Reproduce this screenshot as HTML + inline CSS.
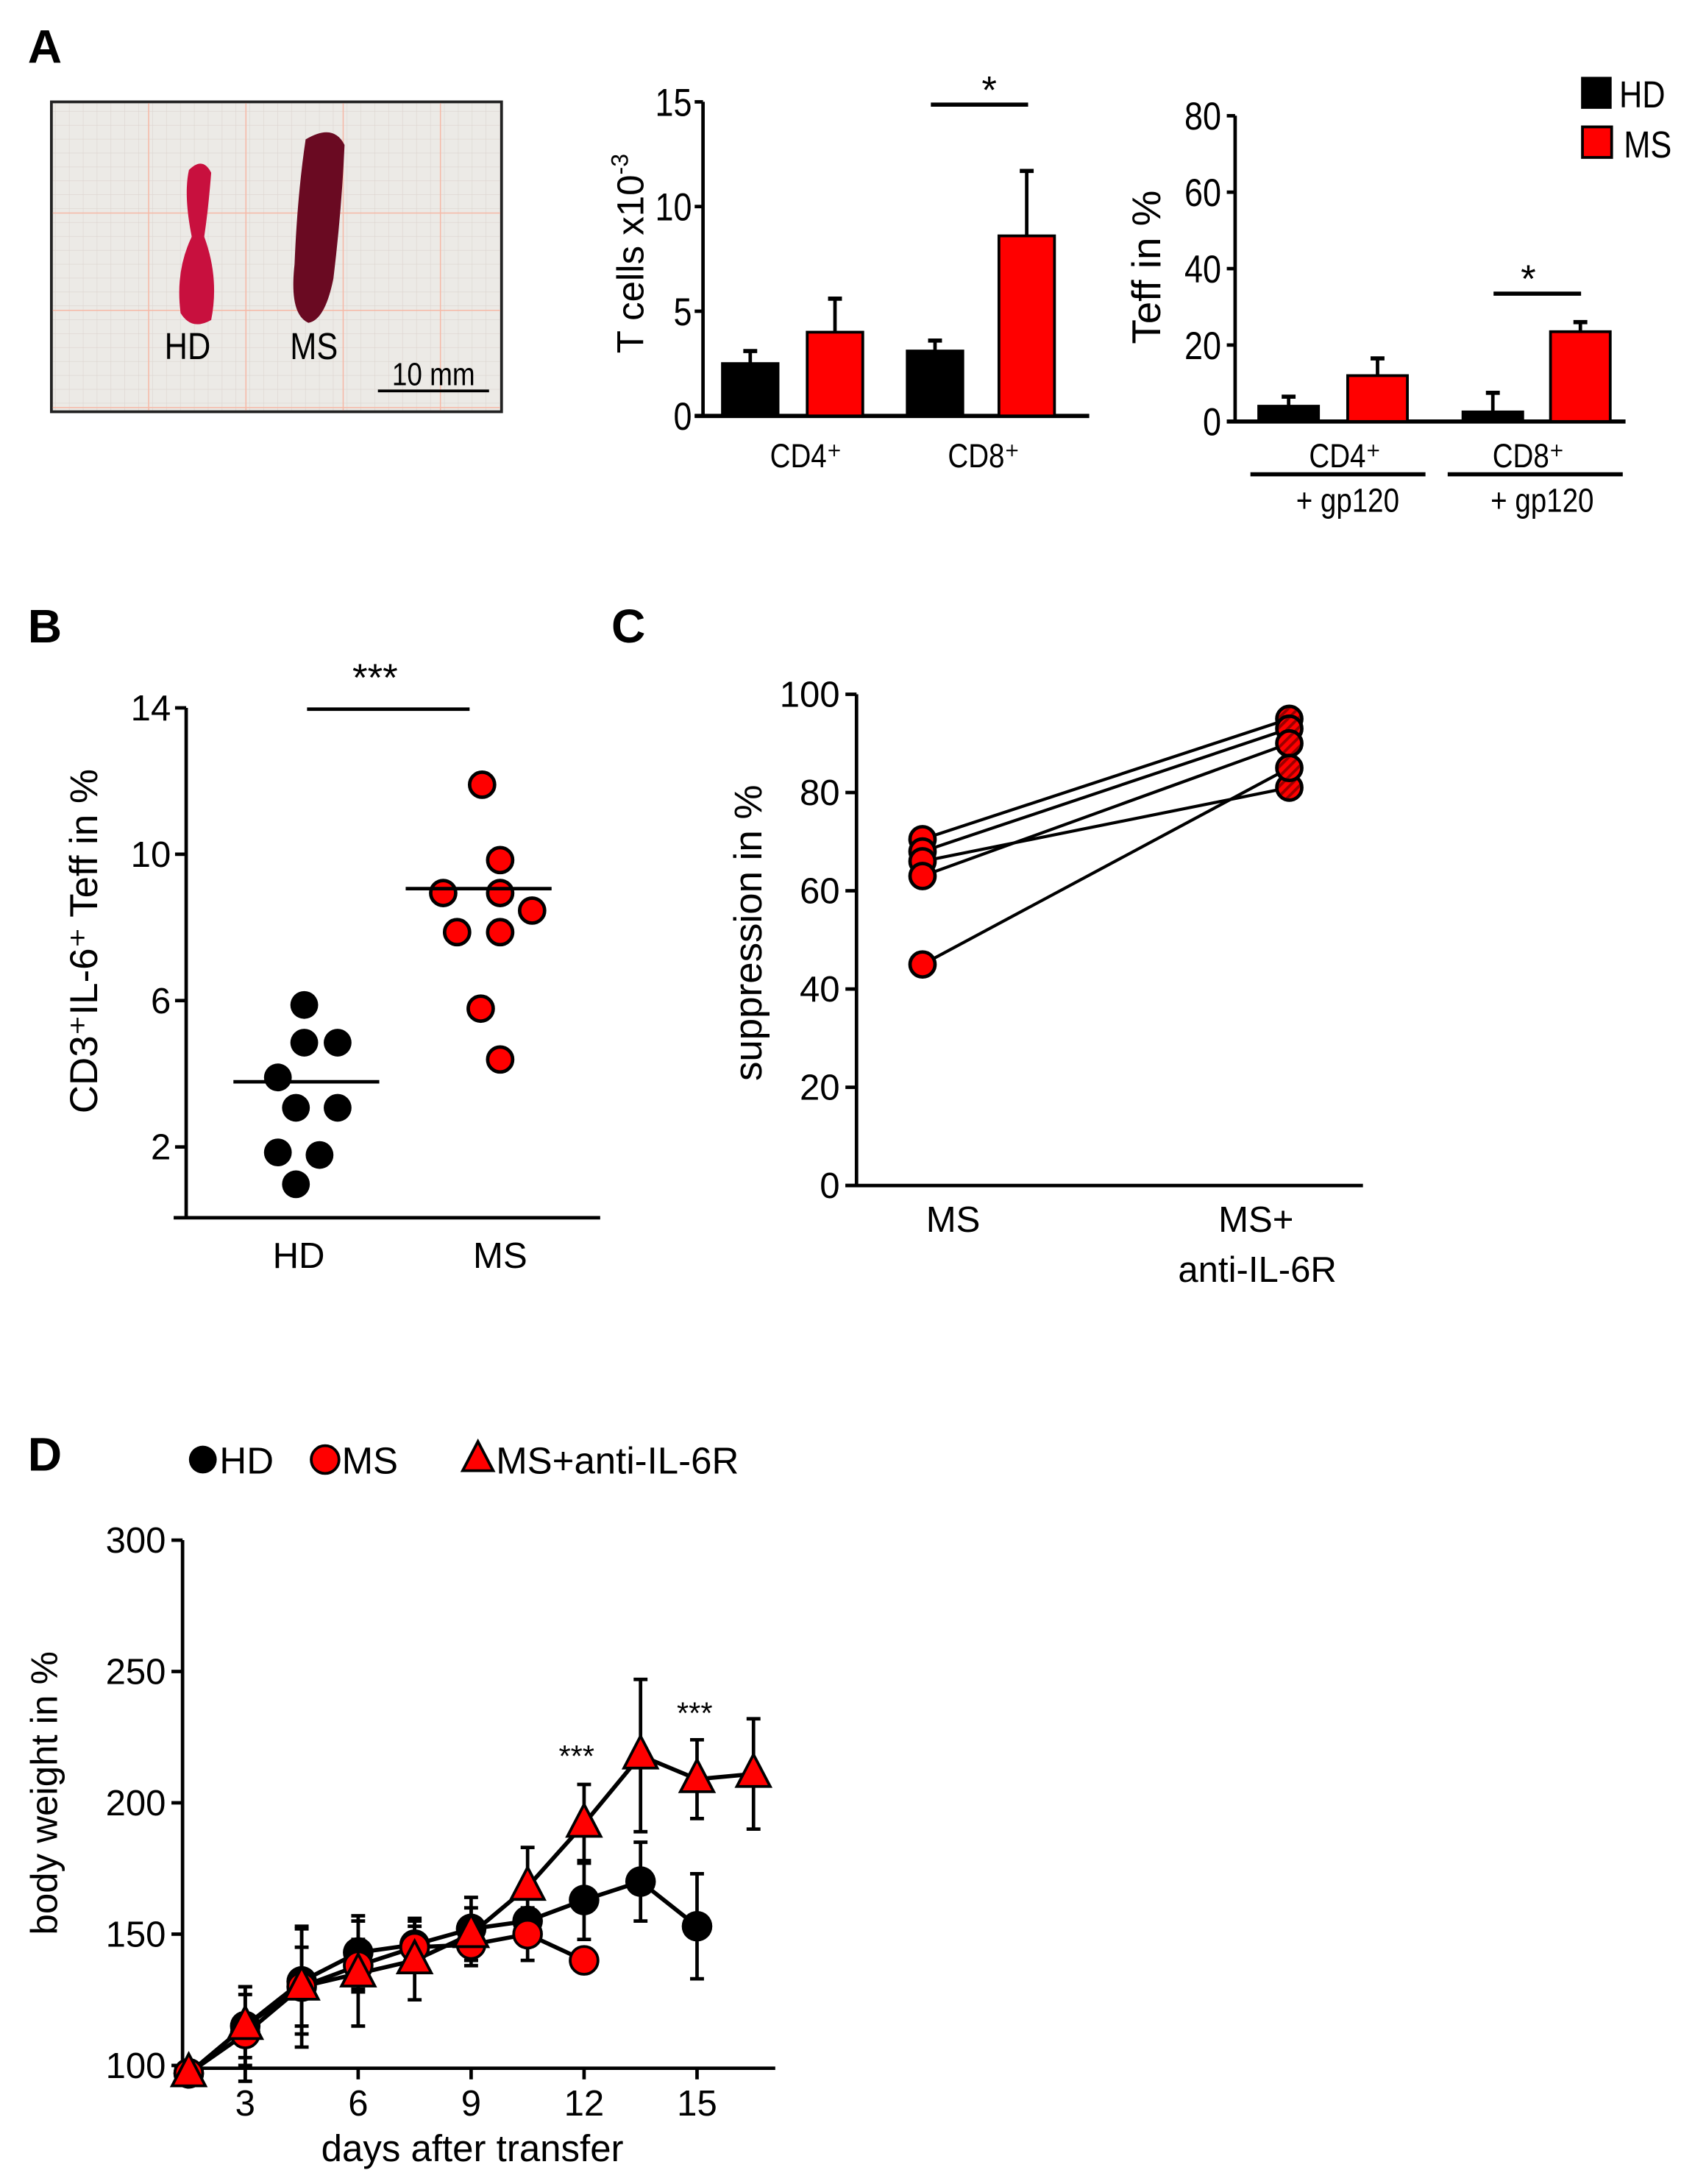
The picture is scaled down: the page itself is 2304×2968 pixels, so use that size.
<!DOCTYPE html>
<html><head><meta charset="utf-8"><style>
html,body{margin:0;padding:0;background:#fff}
svg{display:block;font-family:"Liberation Sans",Arial,sans-serif}
</style></head><body>
<svg id="fig" width="2304" height="2968" viewBox="0 0 1220 1571" xmlns="http://www.w3.org/2000/svg">
<defs>
<pattern id="hatch" width="5" height="5" patternUnits="userSpaceOnUse" patternTransform="rotate(45)">
<rect width="5" height="5" fill="#f00"/><rect width="2" height="5" fill="#900"/>
</pattern>
<pattern id="grid" width="10" height="10" patternUnits="userSpaceOnUse">
<rect width="10" height="10" fill="#eceae6"/><path d="M10 0V10H0" fill="none" stroke="#dcd4cf" stroke-width="0.6"/>
</pattern>
</defs>
<g id="root"></g>
</svg>
<script>
// Panel A1 data
const a1Groups = ["CD4⁺","CD8⁺"];
const a1HD = [2.5, 3.1];
const a1HDerr = [0.6, 0.5];
const a1MS = [4.0, 8.6];
const a1MSerr = [1.6, 3.1];
const a1Ticks = [0,5,10,15];
// Panel A2 data
const a2HD = [4, 2.5];
const a2HDerr = [2.5, 5];
const a2MS = [12, 23.5];
const a2MSerr = [4.5, 2.5];
const a2Ticks = [0,20,40,60,80];
// Panel B data
const bHD = [5.88,4.85,4.85,3.9,3.07,3.07,1.85,1.78,0.98];
const bHDjit = [219,219,243,200,213,243,200,230,213];
const bMS = [11.9,9.84,8.94,8.94,8.46,7.87,7.87,5.78,4.39];
const bMSjit = [347,360,319,360,383,329,360,346,360];
const bMeans = [3.78, 9.06];
const bTicks = [2,6,10,14];
// Panel C data
const cLeft = [70.5,68,66,63,45];
const cRight = [95,93,81,90,85];
const cTicks = [0,20,40,60,80,100];
// Panel D data
const dDays = [1.5,3,4.5,6,7.5,9,10.5,12,13.5,15,16.5];
const dHD = [97,115,132,143,146,152,155,163,170,153];
const dHDerr = [0,12,20,14,10,12,0,15,15,20];
const dMS = [97,112,130,138,145,146,150,140];
const dMSerr = [0,18,15,10,8,8,10,0];
const dTri = [97,115,130,135,140,150,168,192,218,209,211];
const dTriErr = [0,15,23,20,15,10,15,15,29,15,21];
const dTicksY = [100,150,200,250,300];
const dTicksX = [3,6,9,12,15];

const NS="http://www.w3.org/2000/svg";
const root=document.getElementById('root');
function el(tag,attrs,parent,name,txt){
  const e=document.createElementNS(NS,tag);
  for(const k in attrs) e.setAttribute(k,attrs[k]);
  
  
  if(txt!==undefined) e.textContent=txt;
  (parent||root).appendChild(e);return e;
}
function line(x1,y1,x2,y2,w,name,col){return el('line',{x1,y1,x2,y2,stroke:col||'#000','stroke-width':w||2},root,name);}
function text(x,y,s,size,name,anchor,weight,extra){
  const a={x,y,'font-size':size,'text-anchor':anchor||'middle',fill:'#000'};
  if(weight)a['font-weight']=weight;
  if(extra)Object.assign(a,extra);
  return el('text',a,root,name,s);
}
function ntext(x,y,s,size,name,anchor){
  return text(0,0,s,size,name,anchor,null,{transform:`translate(${x},${y}) scale(0.85,1)`});
}
// Panel labels
text(20,45,"A",34,'panel-label-a','start','bold');
text(20,462,"B",34,'panel-label-b','start','bold');
text(440,462,"C",34,'panel-label-c','start','bold');
text(20,1058,"D",34,'panel-label-d','start','bold');

// Photo
el('rect',{x:37,y:73,width:324,height:223,fill:'url(#grid)',stroke:'#222','stroke-width':2},root,'spleen-photo');
[90,160,230,300].forEach(x=>line(37+x-20,74,37+x-20,295,0.8,'photo-grid-line','#f6b8a6'));
[80,150,220].forEach(y=>line(38,73+y,360,73+y,0.8,'photo-grid-line','#f6b8a6'));
el('path',{d:"M136 122 Q146 112 152 124 Q150 150 147 170 Q158 200 152 230 Q138 238 130 225 Q126 195 138 170 Q132 140 136 122Z",fill:'#c8103e'},root,'spleen-hd');
el('path',{d:"M220 100 Q240 88 248 104 Q246 150 240 200 Q234 230 222 232 Q208 226 212 190 Q214 140 220 100Z",fill:'#6a0a22'},root,'spleen-ms');
ntext(135,258,"HD",27,'photo-label-hd');
ntext(226,258,"MS",27,'photo-label-ms');
ntext(312,277,"10 mm",23,'scale-bar-label');
line(272,281,352,281,2,'scale-bar');

// Panel A1
(function(){
  const x0=506,y0=299,yTop=73,max=15;
  const Y=v=>y0-(v/max)*(y0-yTop);
  line(x0,yTop,x0,y0,2.5,'a1-y-axis');line(x0-6,y0,784,y0,3,'a1-x-axis');
  a1Ticks.forEach(t=>{line(x0-6,Y(t),x0,Y(t),2.5,'a1-y-tick');ntext(x0-8,Y(t)+10,String(t),28,'a1-y-tick-label','end');});
  const gx=[520,653],w=40,off=[61,66];
  a1Groups.forEach((g,i)=>{
    [[a1HD,a1HDerr,'#000',0],[a1MS,a1MSerr,'#f00',off[i]]].forEach(([v,e,c,o],k)=>{
      const x=gx[i]+o;
      line(x+w/2,Y(v[i]),x+w/2,Y(v[i]+e[i]),2.5,'a1-error-bar');
      line(x+w/2-5,Y(v[i]+e[i]),x+w/2+5,Y(v[i]+e[i]),3,'a1-error-cap');
      el('rect',{x,y:Y(v[i]),width:w,height:y0-Y(v[i]),fill:c,stroke:'#000','stroke-width':2},root,'a1-bar-'+(k?'ms':'hd')+'-'+i);
    });
    ntext(i?708:580,336,g,24,'a1-x-label');
  });
  line(670,75,740,75,3,'a1-significance-line');text(712,74,"*",28,'a1-significance-star');
  const t=text(0,0,"T cells x10",27,'a1-y-title','start',null,{transform:'translate(463,254) rotate(-90)'});
  el('tspan',{dy:-11,'font-size':17},t,'a1-y-title-exponent',"-3");
})();

// Panel A2
(function(){
  const x0=889,y0=303,yTop=83,max=80;
  const Y=v=>y0-(v/max)*(y0-yTop);
  line(x0,yTop,x0,y0,2.5,'a2-y-axis');line(x0-6,y0,1170,y0,3,'a2-x-axis');
  a2Ticks.forEach(t=>{line(x0-6,Y(t),x0,Y(t),2.5,'a2-y-tick');ntext(x0-10,Y(t)+10,String(t),28,'a2-y-tick-label','end');});
  const hx=[906,1053],mx=[970,1116],w=43;
  [0,1].forEach(i=>{
    [[a2HD,a2HDerr,'#000',hx],[a2MS,a2MSerr,'#f00',mx]].forEach(([v,e,c,xs],k)=>{
      const x=xs[i];
      line(x+w/2,Y(v[i]),x+w/2,Y(v[i]+e[i]),2.5,'a2-error-bar');
      line(x+w/2-5,Y(v[i]+e[i]),x+w/2+5,Y(v[i]+e[i]),3,'a2-error-cap');
      el('rect',{x,y:Y(v[i]),width:w,height:y0-Y(v[i]),fill:c,stroke:'#000','stroke-width':2},root,'a2-bar-'+(k?'ms':'hd')+'-'+i);
    });
  });
  ntext(968,336,"CD4⁺",24,'a2-x-label');ntext(1100,336,"CD8⁺",24,'a2-x-label');
  line(900,341,1026,341,3,'a2-group-line');line(1042,341,1168,341,3,'a2-group-line');
  ntext(970,368,"+ gp120",24,'a2-x-sublabel');ntext(1110,368,"+ gp120",24,'a2-x-sublabel');
  line(1075,211,1138,211,3,'a2-significance-line');text(1100,210,"*",28,'a2-significance-star');
  text(0,0,"Teff in %",29,'a2-y-title','middle',null,{transform:'translate(835,192) rotate(-90)'});
  el('rect',{x:1138,y:55,width:22,height:23,fill:'#000'},root,'legend-hd-swatch');
  ntext(1182,77,"HD",27,'legend-hd-label','middle');
  el('rect',{x:1139,y:91,width:21,height:22,fill:'#f00',stroke:'#000','stroke-width':2},root,'legend-ms-swatch');
  ntext(1186,113,"MS",27,'legend-ms-label','middle');
})();

// Panel B
(function(){
  const x0=134,per=26.33,base=877.7;
  const Y=v=>base-v*per;
  line(x0,Y(14),x0,876,2.5,'b-y-axis');line(125,876,432,876,2.5,'b-x-axis');
  bTicks.forEach(t=>{line(x0-8,Y(t),x0,Y(t),2.5,'b-y-tick');text(x0-11,Y(t)+9,t,26,'b-y-tick-label','end');});
  bHD.forEach((v,i)=>el('circle',{cx:bHDjit[i],cy:Y(v),r:10,fill:'#000'},root,'b-point-hd'));
  bMS.forEach((v,i)=>el('circle',{cx:bMSjit[i],cy:Y(v),r:9,fill:'#f00',stroke:'#000','stroke-width':2.5},root,'b-point-ms'));
  line(168,Y(bMeans[0]),273,Y(bMeans[0]),2.5,'b-mean-hd');line(292,Y(bMeans[1]),397,Y(bMeans[1]),2.5,'b-mean-ms');
  line(221,510,338,510,2.5,'b-significance-line');text(270,497,"***",28,'b-significance-stars');
  text(215,912,"HD",26,'b-x-label');text(360,912,"MS",26,'b-x-label');
  text(0,0,"CD3⁺IL-6⁺ Teff in %",28,'b-y-title','middle',null,{transform:'translate(70,677) rotate(-90)'});
})();

// Panel C
(function(){
  const x0=616.5,y0=852.8,per=3.535;
  const Y=v=>y0-v*per;
  line(x0,Y(100),x0,y0,2.5,'c-y-axis');line(x0-8,y0,981,y0,2.5,'c-x-axis');
  cTicks.forEach(t=>{line(x0-8,Y(t),x0,Y(t),2.5,'c-y-tick');text(x0-12,Y(t)+9,t,26,'c-y-tick-label','end');});
  cLeft.forEach((v,i)=>line(664,Y(v),928,Y(cRight[i]),2.2,'c-pair-line'));
  cLeft.forEach(v=>el('circle',{cx:664,cy:Y(v),r:9,fill:'#f00',stroke:'#000','stroke-width':2.5},root,'c-point-ms'));
  cRight.forEach(v=>el('circle',{cx:928,cy:Y(v),r:9,fill:'url(#hatch)',stroke:'#000','stroke-width':2.5},root,'c-point-ms-anti-il6r'));
  text(686,886,"MS",26,'c-x-label');text(904,886,"MS+",26,'c-x-label');text(905,922,"anti-IL-6R",26,'c-x-label');
  text(0,0,"suppression in %",28,'c-y-title','middle',null,{transform:'translate(548,671) rotate(-90)'});
})();

// Panel D
(function(){
  const x0=131.4,X=d=>95.2+d*27.1,Y=v=>1486-(v-100)*1.89;
  line(x0,Y(300),x0,1488,2.5,'d-y-axis');line(x0-6,1488,558,1488,2.5,'d-x-axis');
  dTicksY.forEach(t=>{line(x0-8,Y(t),x0,Y(t),2.5,'d-y-tick');text(x0-12,Y(t)+9,t,26,'d-y-tick-label','end');});
  dTicksX.forEach(t=>{line(X(t),1488,X(t),1496,2.5,'d-x-tick');text(X(t),1522,t,26,'d-x-tick-label');});
  text(340,1555,"days after transfer",27,'d-x-title');
  text(0,0,"body weight in %",27,'d-y-title','middle',null,{transform:'translate(41,1290) rotate(-90)'});
  function series(vals,errs,name){
    vals.forEach((v,i)=>{ if(errs[i]){
      line(X(dDays[i]),Y(v-errs[i]),X(dDays[i]),Y(v+errs[i]),2.5,name+'-error-bar');
      line(X(dDays[i])-5,Y(v+errs[i]),X(dDays[i])+5,Y(v+errs[i]),2.5,name+'-error-cap');
      line(X(dDays[i])-5,Y(v-errs[i]),X(dDays[i])+5,Y(v-errs[i]),2.5,name+'-error-cap');}});
    el('polyline',{points:vals.map((v,i)=>X(dDays[i])+','+Y(v)).join(' '),fill:'none',stroke:'#000','stroke-width':3},root,name+'-line');
  }
  series(dHD,dHDerr,'d-hd');series(dMS,dMSerr,'d-ms');series(dTri,dTriErr,'d-anti-il6r');
  dHD.forEach((v,i)=>el('circle',{cx:X(dDays[i]),cy:Y(v),r:11,fill:'#000'},root,'d-point-hd'));
  dMS.forEach((v,i)=>el('circle',{cx:X(dDays[i]),cy:Y(v),r:10,fill:'#f00',stroke:'#000','stroke-width':2},root,'d-point-ms'));
  dTri.forEach((v,i)=>{const x=X(dDays[i]),y=Y(v);
    el('polygon',{points:`${x},${y-14} ${x-12},${y+9} ${x+12},${y+9}`,fill:'#f00',stroke:'#000','stroke-width':2},root,'d-point-anti-il6r');});
  text(415,1271,"***",22,'d-significance-day12');text(500,1240,"***",22,'d-significance-day15');
  el('circle',{cx:146,cy:1050,r:10,fill:'#000'},root,'d-legend-hd-marker');text(158,1060,"HD",27,'d-legend-hd-label','start');
  el('circle',{cx:234,cy:1050,r:10,fill:'#f00',stroke:'#000','stroke-width':2},root,'d-legend-ms-marker');text(246,1060,"MS",27,'d-legend-ms-label','start');
  el('polygon',{points:"344,1037 333,1058 355,1058",fill:'#f00',stroke:'#000','stroke-width':2},root,'d-legend-anti-il6r-marker');
  text(357,1060,"MS+anti-IL-6R",27,'d-legend-anti-il6r-label','start');
})();
</script>
</body></html>
